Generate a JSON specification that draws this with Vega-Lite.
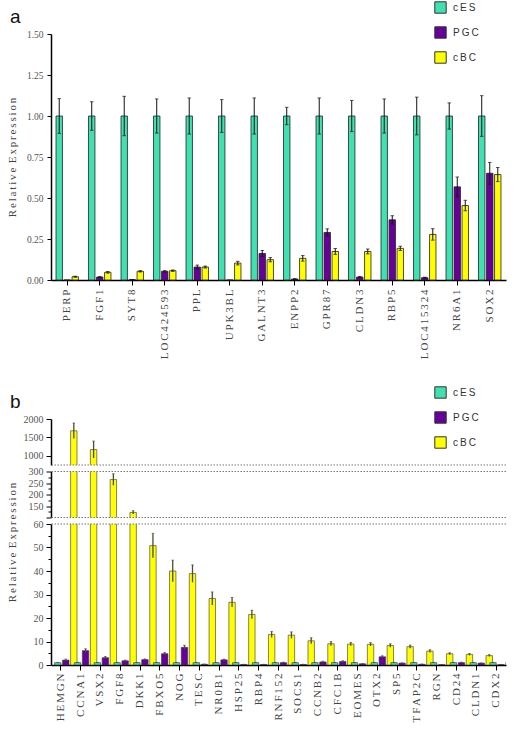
{
"$schema": "https://vega.github.io/schema/vega-lite/v6.json",
"padding": {"left": 5, "top": 1, "right": 5, "bottom": 5},
"background": "white",
"bounds": "flush",
"spacing": 139,
"config": {
  "view": {"stroke": null},
  "axis": {"labelFont": "Liberation Serif", "titleFont": "Liberation Serif", "labelColor": "#555", "titleColor": "#444", "domainColor": "#000", "tickColor": "#000", "grid": false, "domainWidth": 1.5, "tickWidth": 1, "titleFontWeight": "normal"},
  "legend": {"orient": "none", "legendX": 383, "legendY": -33, "symbolType": "square", "symbolSize": 130, "symbolStrokeColor": "#333", "symbolStrokeWidth": 1, "labelFont": "Liberation Sans", "labelFontSize": 10, "labelColor": "#333", "rowPadding": 8, "labelOffset": 6, "title": null},
  "title": {"font": "Liberation Sans", "fontSize": 19, "fontWeight": "normal", "anchor": "start", "frame": "group", "color": "#111"}
},
"datasets": {
  "a": [
    {"gene": "PERP", "group": "cES", "value": 1, "lo": 0.894, "hi": 1.106},
    {"gene": "PERP", "group": "PGC", "value": 0, "lo": null, "hi": null},
    {"gene": "PERP", "group": "cBC", "value": 0.02, "lo": 0.017, "hi": 0.023},
    {"gene": "FGF1", "group": "cES", "value": 1, "lo": 0.913, "hi": 1.087},
    {"gene": "FGF1", "group": "PGC", "value": 0.018, "lo": 0.015, "hi": 0.021},
    {"gene": "FGF1", "group": "cBC", "value": 0.047, "lo": 0.042, "hi": 0.052},
    {"gene": "SYT8", "group": "cES", "value": 1, "lo": 0.88, "hi": 1.12},
    {"gene": "SYT8", "group": "PGC", "value": 0.002, "lo": 0.001, "hi": 0.003},
    {"gene": "SYT8", "group": "cBC", "value": 0.053, "lo": 0.049, "hi": 0.057},
    {"gene": "LOC424593", "group": "cES", "value": 1, "lo": 0.896, "hi": 1.104},
    {"gene": "LOC424593", "group": "PGC", "value": 0.053, "lo": 0.049, "hi": 0.057},
    {"gene": "LOC424593", "group": "cBC", "value": 0.057, "lo": 0.053, "hi": 0.061},
    {"gene": "PPL", "group": "cES", "value": 1, "lo": 0.89, "hi": 1.11},
    {"gene": "PPL", "group": "PGC", "value": 0.079, "lo": 0.067, "hi": 0.091},
    {"gene": "PPL", "group": "cBC", "value": 0.079, "lo": 0.073, "hi": 0.085},
    {"gene": "UPK3BL", "group": "cES", "value": 1, "lo": 0.9, "hi": 1.1},
    {"gene": "UPK3BL", "group": "PGC", "value": 0, "lo": null, "hi": null},
    {"gene": "UPK3BL", "group": "cBC", "value": 0.103, "lo": 0.092, "hi": 0.114},
    {"gene": "GALNT3", "group": "cES", "value": 1, "lo": 0.89, "hi": 1.11},
    {"gene": "GALNT3", "group": "PGC", "value": 0.162, "lo": 0.144, "hi": 0.18},
    {"gene": "GALNT3", "group": "cBC", "value": 0.124, "lo": 0.111, "hi": 0.137},
    {"gene": "ENPP2", "group": "cES", "value": 1, "lo": 0.947, "hi": 1.053},
    {"gene": "ENPP2", "group": "PGC", "value": 0.006, "lo": 0.004, "hi": 0.008},
    {"gene": "ENPP2", "group": "cBC", "value": 0.132, "lo": 0.115, "hi": 0.149},
    {"gene": "GPR87", "group": "cES", "value": 1, "lo": 0.89, "hi": 1.11},
    {"gene": "GPR87", "group": "PGC", "value": 0.29, "lo": 0.268, "hi": 0.312},
    {"gene": "GPR87", "group": "cBC", "value": 0.174, "lo": 0.156, "hi": 0.192},
    {"gene": "CLDN3", "group": "cES", "value": 1, "lo": 0.905, "hi": 1.095},
    {"gene": "CLDN3", "group": "PGC", "value": 0.018, "lo": 0.015, "hi": 0.021},
    {"gene": "CLDN3", "group": "cBC", "value": 0.174, "lo": 0.159, "hi": 0.189},
    {"gene": "RBP5", "group": "cES", "value": 1, "lo": 0.896, "hi": 1.104},
    {"gene": "RBP5", "group": "PGC", "value": 0.367, "lo": 0.342, "hi": 0.392},
    {"gene": "RBP5", "group": "cBC", "value": 0.193, "lo": 0.18, "hi": 0.206},
    {"gene": "LOC415324", "group": "cES", "value": 1, "lo": 0.885, "hi": 1.115},
    {"gene": "LOC415324", "group": "PGC", "value": 0.014, "lo": 0.011, "hi": 0.017},
    {"gene": "LOC415324", "group": "cBC", "value": 0.278, "lo": 0.243, "hi": 0.313},
    {"gene": "NR6A1", "group": "cES", "value": 1, "lo": 0.92, "hi": 1.08},
    {"gene": "NR6A1", "group": "PGC", "value": 0.568, "lo": 0.508, "hi": 0.628},
    {"gene": "NR6A1", "group": "cBC", "value": 0.454, "lo": 0.422, "hi": 0.486},
    {"gene": "SOX2", "group": "cES", "value": 1, "lo": 0.876, "hi": 1.124},
    {"gene": "SOX2", "group": "PGC", "value": 0.651, "lo": 0.585, "hi": 0.717},
    {"gene": "SOX2", "group": "cBC", "value": 0.643, "lo": 0.6, "hi": 0.686}
  ],
  "b": [
    {"gene": "HEMGN", "group": "cES", "value": 1, "lo": 0.9, "hi": 1.1},
    {"gene": "HEMGN", "group": "PGC", "value": 2.1, "lo": 1.7, "hi": 2.5},
    {"gene": "HEMGN", "group": "cBC", "value": 1680, "lo": 1470, "hi": 1890},
    {"gene": "CCNA1", "group": "cES", "value": 1, "lo": 0.9, "hi": 1.1},
    {"gene": "CCNA1", "group": "PGC", "value": 6.1, "lo": 5.3, "hi": 6.9},
    {"gene": "CCNA1", "group": "cBC", "value": 1170, "lo": 940, "hi": 1400},
    {"gene": "VSX2", "group": "cES", "value": 1, "lo": 0.9, "hi": 1.1},
    {"gene": "VSX2", "group": "PGC", "value": 3.1, "lo": 2.6, "hi": 3.6},
    {"gene": "VSX2", "group": "cBC", "value": 265, "lo": 240, "hi": 290},
    {"gene": "FGF8", "group": "cES", "value": 1, "lo": 0.9, "hi": 1.1},
    {"gene": "FGF8", "group": "PGC", "value": 1.8, "lo": 1.5, "hi": 2.1},
    {"gene": "FGF8", "group": "cBC", "value": 122, "lo": 115, "hi": 129},
    {"gene": "DKK1", "group": "cES", "value": 1, "lo": 0.9, "hi": 1.1},
    {"gene": "DKK1", "group": "PGC", "value": 2.3, "lo": 2.0, "hi": 2.6},
    {"gene": "DKK1", "group": "cBC", "value": 50.8, "lo": 45.6, "hi": 56},
    {"gene": "FBXO5", "group": "cES", "value": 1, "lo": 0.9, "hi": 1.1},
    {"gene": "FBXO5", "group": "PGC", "value": 4.8, "lo": 4.3, "hi": 5.3},
    {"gene": "FBXO5", "group": "cBC", "value": 40, "lo": 35.4, "hi": 44.6},
    {"gene": "NOG", "group": "cES", "value": 1, "lo": 0.9, "hi": 1.1},
    {"gene": "NOG", "group": "PGC", "value": 7.5, "lo": 6.6, "hi": 8.4},
    {"gene": "NOG", "group": "cBC", "value": 38.9, "lo": 35.2, "hi": 42.6},
    {"gene": "TESC", "group": "cES", "value": 1, "lo": 0.9, "hi": 1.1},
    {"gene": "TESC", "group": "PGC", "value": 0.3, "lo": 0.2, "hi": 0.4},
    {"gene": "TESC", "group": "cBC", "value": 28.3, "lo": 25.5, "hi": 31.1},
    {"gene": "NR0B1", "group": "cES", "value": 1, "lo": 0.9, "hi": 1.1},
    {"gene": "NR0B1", "group": "PGC", "value": 2.2, "lo": 1.9, "hi": 2.5},
    {"gene": "NR0B1", "group": "cBC", "value": 26.7, "lo": 24.7, "hi": 28.7},
    {"gene": "HSP25", "group": "cES", "value": 1, "lo": 0.9, "hi": 1.1},
    {"gene": "HSP25", "group": "PGC", "value": 0.2, "lo": 0.1, "hi": 0.3},
    {"gene": "HSP25", "group": "cBC", "value": 21.5, "lo": 19.7, "hi": 23.3},
    {"gene": "RBP4", "group": "cES", "value": 1, "lo": 0.9, "hi": 1.1},
    {"gene": "RBP4", "group": "PGC", "value": 0.2, "lo": 0.1, "hi": 0.3},
    {"gene": "RBP4", "group": "cBC", "value": 13, "lo": 11.7, "hi": 14.3},
    {"gene": "RNF152", "group": "cES", "value": 1, "lo": 0.9, "hi": 1.1},
    {"gene": "RNF152", "group": "PGC", "value": 1.0, "lo": 0.8, "hi": 1.2},
    {"gene": "RNF152", "group": "cBC", "value": 12.7, "lo": 11.3, "hi": 14.1},
    {"gene": "SOCS1", "group": "cES", "value": 1, "lo": 0.9, "hi": 1.1},
    {"gene": "SOCS1", "group": "PGC", "value": 0.2, "lo": 0.1, "hi": 0.3},
    {"gene": "SOCS1", "group": "cBC", "value": 10.3, "lo": 9.0, "hi": 11.6},
    {"gene": "CCNB2", "group": "cES", "value": 1, "lo": 0.9, "hi": 1.1},
    {"gene": "CCNB2", "group": "PGC", "value": 1.3, "lo": 1.0, "hi": 1.6},
    {"gene": "CCNB2", "group": "cBC", "value": 9.05, "lo": 8.15, "hi": 9.95},
    {"gene": "CFC1B", "group": "cES", "value": 1, "lo": 0.9, "hi": 1.1},
    {"gene": "CFC1B", "group": "PGC", "value": 1.5, "lo": 1.2, "hi": 1.8},
    {"gene": "CFC1B", "group": "cBC", "value": 8.9, "lo": 8.2, "hi": 9.6},
    {"gene": "EOMES", "group": "cES", "value": 1, "lo": 0.9, "hi": 1.1},
    {"gene": "EOMES", "group": "PGC", "value": 0.5, "lo": 0.4, "hi": 0.6},
    {"gene": "EOMES", "group": "cBC", "value": 8.8, "lo": 8.1, "hi": 9.5},
    {"gene": "OTX2", "group": "cES", "value": 1, "lo": 0.9, "hi": 1.1},
    {"gene": "OTX2", "group": "PGC", "value": 3.5, "lo": 3.1, "hi": 3.9},
    {"gene": "OTX2", "group": "cBC", "value": 8.3, "lo": 7.55, "hi": 9.05},
    {"gene": "SP5", "group": "cES", "value": 1, "lo": 0.9, "hi": 1.1},
    {"gene": "SP5", "group": "PGC", "value": 0.8, "lo": 0.7, "hi": 0.9},
    {"gene": "SP5", "group": "cBC", "value": 7.8, "lo": 7.1, "hi": 8.5},
    {"gene": "TFAP2C", "group": "cES", "value": 1, "lo": 0.9, "hi": 1.1},
    {"gene": "TFAP2C", "group": "PGC", "value": 0.3, "lo": 0.2, "hi": 0.4},
    {"gene": "TFAP2C", "group": "cBC", "value": 5.9, "lo": 5.3, "hi": 6.5},
    {"gene": "RGN", "group": "cES", "value": 1, "lo": 0.9, "hi": 1.1},
    {"gene": "RGN", "group": "PGC", "value": 0.1, "lo": 0.05, "hi": 0.15},
    {"gene": "RGN", "group": "cBC", "value": 4.8, "lo": 4.4, "hi": 5.2},
    {"gene": "CD24", "group": "cES", "value": 1, "lo": 0.9, "hi": 1.1},
    {"gene": "CD24", "group": "PGC", "value": 1.0, "lo": 0.8, "hi": 1.2},
    {"gene": "CD24", "group": "cBC", "value": 4.5, "lo": 4.1, "hi": 4.9},
    {"gene": "CLDN1", "group": "cES", "value": 1, "lo": 0.9, "hi": 1.1},
    {"gene": "CLDN1", "group": "PGC", "value": 0.8, "lo": 0.7, "hi": 0.9},
    {"gene": "CLDN1", "group": "cBC", "value": 4.0, "lo": 3.6, "hi": 4.4},
    {"gene": "CDX2", "group": "cES", "value": 1, "lo": 0.9, "hi": 1.1},
    {"gene": "CDX2", "group": "PGC", "value": 0.1, "lo": 0.05, "hi": 0.15},
    {"gene": "CDX2", "group": "cBC", "value": 1.1, "lo": 0.95, "hi": 1.25}
  ]
},
"resolve": {"scale": {"x": "independent", "y": "independent"}, "legend": {"color": "independent"}},
"vconcat": [
  {
    "width": 455, "height": 246,
    "title": {"text": "a", "dx": -41, "dy": 30},
    "data": {"name": "a"},
    "layer": [
      {"mark": {"type": "bar", "stroke": "#222", "strokeWidth": 0.8},
       "encoding": {
         "x": {"field": "gene", "type": "nominal", "sort": null, "scale": {"paddingInner": 0.26, "paddingOuter": 0.13},
               "axis": {"title": null, "labelAngle": -90, "labelFontSize": 11, "labelColor": "#444", "tickSize": 5, "labelPadding": 4, "labelExpr": "join(split(datum.label, ''), '\u2006')"}},
         "xOffset": {"field": "group", "sort": ["cES", "PGC", "cBC"], "scale": {"paddingInner": 0.2, "paddingOuter": 0.1}},
         "y": {"field": "value", "type": "quantitative", "scale": {"domain": [0, 1.5], "nice": false},
               "axis": {"values": [0, 0.25, 0.5, 0.75, 1, 1.25, 1.5], "format": ".2f", "labelFontSize": 9.5, "tickSize": 4, "labelPadding": 4, "labelOverlap": false,
                        "title": "R\u2006e\u2006l\u2006a\u2006t\u2006i\u2006v\u2006e \u2006E\u2006x\u2006p\u2006r\u2006e\u2006s\u2006s\u2006i\u2006o\u2006n", "titleFontSize": 11, "titleX": -39, "titleBaseline": "middle"}},
         "color": {"field": "group", "type": "nominal", "scale": {"domain": ["cES", "PGC", "cBC"], "range": ["#40E0B0", "#660099", "#FFFF00"]},
                   "legend": {"labelExpr": "join(split(datum.label, ''), '\u2009')"}}
       }},
      {"mark": {"type": "rule", "color": "#111", "strokeWidth": 1},
       "encoding": {
         "x": {"field": "gene", "type": "nominal", "sort": null},
         "xOffset": {"field": "group", "sort": ["cES", "PGC", "cBC"]},
         "y": {"field": "lo", "type": "quantitative", "scale": {"domain": [0, 1.5], "nice": false}},
         "y2": {"field": "hi"}
       }},
      {"mark": {"type": "tick", "color": "#111", "size": 3.5, "thickness": 1},
       "encoding": {
         "x": {"field": "gene", "type": "nominal", "sort": null},
         "xOffset": {"field": "group", "sort": ["cES", "PGC", "cBC"]},
         "y": {"field": "hi", "type": "quantitative", "scale": {"domain": [0, 1.5], "nice": false}}
       }},
      {"mark": {"type": "tick", "color": "#111", "size": 3.5, "thickness": 1},
       "encoding": {
         "x": {"field": "gene", "type": "nominal", "sort": null},
         "xOffset": {"field": "group", "sort": ["cES", "PGC", "cBC"]},
         "y": {"field": "lo", "type": "quantitative", "scale": {"domain": [0, 1.5], "nice": false}}
       }}
    ]
  },
  {
    "bounds": "flush",
    "spacing": 6.5,
    "data": {"name": "b"},
    "resolve": {"scale": {"x": "shared", "y": "independent"}, "axis": {"x": "independent", "y": "independent"}, "legend": {"color": "independent"}},
    "vconcat": [
      {
        "width": 455, "height": 46,
        "title": {"text": "b", "dx": -41, "dy": 30},
        "layer": [
          {"mark": {"type": "bar", "stroke": "#333", "strokeWidth": 0.6, "clip": true},
           "encoding": {
             "x": {"field": "gene", "type": "nominal", "sort": null, "scale": {"paddingInner": 0.28, "paddingOuter": 0.14}, "axis": null},
             "xOffset": {"field": "group", "sort": ["cES", "PGC", "cBC"], "scale": {"paddingInner": 0.2, "paddingOuter": 0.1}},
             "y": {"field": "value", "type": "quantitative", "scale": {"domain": [750, 2000], "nice": false},
                   "axis": {"values": [1000, 1500, 2000], "format": "d", "labelFontSize": 10, "tickSize": 5, "labelPadding": 3, "labelOverlap": false, "title": null}},
             "color": {"field": "group", "type": "nominal", "scale": {"domain": ["cES", "PGC", "cBC"], "range": ["#40E0B0", "#660099", "#FFFF00"]},
                       "legend": {"labelExpr": "join(split(datum.label, ''), '\u2009')"}}
           }},
          {"mark": {"type": "rule", "color": "#4d4d38", "strokeWidth": 1.3, "clip": true},
           "encoding": {
             "x": {"field": "gene", "type": "nominal", "sort": null},
             "xOffset": {"field": "group", "sort": ["cES", "PGC", "cBC"]},
             "y": {"field": "lo", "type": "quantitative", "scale": {"domain": [750, 2000], "nice": false},
                   "axis": {"values": [1000, 1500, 2000], "format": "d", "labelFontSize": 10, "tickSize": 5, "labelPadding": 3, "labelOverlap": false, "title": null}},
             "y2": {"field": "hi"}
           }},
          {"mark": {"type": "tick", "color": "#4d4d38", "size": 2.5, "thickness": 1, "clip": true},
           "encoding": {
             "x": {"field": "gene", "type": "nominal", "sort": null},
             "xOffset": {"field": "group", "sort": ["cES", "PGC", "cBC"]},
             "y": {"field": "hi", "type": "quantitative", "scale": {"domain": [750, 2000], "nice": false},
                   "axis": {"values": [1000, 1500, 2000], "format": "d", "labelFontSize": 10, "tickSize": 5, "labelPadding": 3, "labelOverlap": false, "title": null}}
           }},
          {"data": {"values": [{"edge": 750}]},
           "mark": {"type": "rule", "color": "#777", "strokeDash": [1.5, 1.5], "strokeWidth": 1},
           "encoding": {"y": {"field": "edge", "type": "quantitative", "scale": {"domain": [750, 2000], "nice": false},
                   "axis": {"values": [1000, 1500, 2000], "format": "d", "labelFontSize": 10, "tickSize": 5, "labelPadding": 3, "labelOverlap": false, "title": null}}}}
        ]
      },
      {
        "width": 455, "height": 46,
        "layer": [
          {"mark": {"type": "bar", "stroke": "#333", "strokeWidth": 0.6, "clip": true},
           "encoding": {
             "x": {"field": "gene", "type": "nominal", "sort": null, "scale": {"paddingInner": 0.28, "paddingOuter": 0.14}, "axis": null},
             "xOffset": {"field": "group", "sort": ["cES", "PGC", "cBC"], "scale": {"paddingInner": 0.2, "paddingOuter": 0.1}},
             "y": {"field": "value", "type": "quantitative", "scale": {"domain": [100, 300], "nice": false},
                   "axis": {"values": [100, 125, 150, 175, 200, 225, 250, 275, 300], "format": "d", "labelFontSize": 10, "labelPadding": 3, "title": null, "labelOverlap": false,
                            "labelExpr": "datum.value % 50 === 0 && datum.value > 100 ? datum.label : ''",
                            "tickSize": {"condition": {"test": "datum.value % 50 !== 0", "value": 3}, "value": 5}}},
             "color": {"field": "group", "type": "nominal", "scale": {"domain": ["cES", "PGC", "cBC"], "range": ["#40E0B0", "#660099", "#FFFF00"]}, "legend": null}
           }},
          {"mark": {"type": "rule", "color": "#4d4d38", "strokeWidth": 1.3, "clip": true},
           "encoding": {
             "x": {"field": "gene", "type": "nominal", "sort": null},
             "xOffset": {"field": "group", "sort": ["cES", "PGC", "cBC"]},
             "y": {"field": "lo", "type": "quantitative", "scale": {"domain": [100, 300], "nice": false},
                   "axis": {"values": [100, 125, 150, 175, 200, 225, 250, 275, 300], "format": "d", "labelFontSize": 10, "labelPadding": 3, "title": null, "labelOverlap": false,
                            "labelExpr": "datum.value % 50 === 0 && datum.value > 100 ? datum.label : ''",
                            "tickSize": {"condition": {"test": "datum.value % 50 !== 0", "value": 3}, "value": 5}}},
             "y2": {"field": "hi"}
           }},
          {"mark": {"type": "tick", "color": "#4d4d38", "size": 2.5, "thickness": 1, "clip": true},
           "encoding": {
             "x": {"field": "gene", "type": "nominal", "sort": null},
             "xOffset": {"field": "group", "sort": ["cES", "PGC", "cBC"]},
             "y": {"field": "hi", "type": "quantitative", "scale": {"domain": [100, 300], "nice": false},
                   "axis": {"values": [100, 125, 150, 175, 200, 225, 250, 275, 300], "format": "d", "labelFontSize": 10, "labelPadding": 3, "title": null, "labelOverlap": false,
                            "labelExpr": "datum.value % 50 === 0 && datum.value > 100 ? datum.label : ''",
                            "tickSize": {"condition": {"test": "datum.value % 50 !== 0", "value": 3}, "value": 5}}}
           }},
          {"data": {"values": [{"edge": 100}, {"edge": 300}]},
           "mark": {"type": "rule", "color": "#777", "strokeDash": [1.5, 1.5], "strokeWidth": 1},
           "encoding": {"y": {"field": "edge", "type": "quantitative", "scale": {"domain": [100, 300], "nice": false},
                   "axis": {"values": [100, 125, 150, 175, 200, 225, 250, 275, 300], "format": "d", "labelFontSize": 10, "labelPadding": 3, "title": null, "labelOverlap": false,
                            "labelExpr": "datum.value % 50 === 0 && datum.value > 100 ? datum.label : ''",
                            "tickSize": {"condition": {"test": "datum.value % 50 !== 0", "value": 3}, "value": 5}}}}}
        ]
      },
      {
        "width": 455, "height": 141,
        "layer": [
          {"mark": {"type": "bar", "stroke": "#333", "strokeWidth": 0.6, "clip": true},
           "encoding": {
             "x": {"field": "gene", "type": "nominal", "sort": null, "scale": {"paddingInner": 0.28, "paddingOuter": 0.14},
                   "axis": {"title": null, "labelAngle": -90, "labelFontSize": 11, "labelColor": "#444", "tickSize": 5, "labelPadding": 3, "labelExpr": "join(split(datum.label, ''), '\u2006')"}},
             "xOffset": {"field": "group", "sort": ["cES", "PGC", "cBC"], "scale": {"paddingInner": 0.2, "paddingOuter": 0.1}},
             "y": {"field": "value", "type": "quantitative", "scale": {"domain": [0, 60], "nice": false},
                   "axis": {"values": [0, 5, 10, 15, 20, 25, 30, 35, 40, 45, 50, 55, 60], "format": "d", "labelFontSize": 10, "labelPadding": 3, "labelOverlap": false,
                            "labelExpr": "datum.value % 10 === 0 ? datum.label : ''",
                            "tickSize": {"condition": {"test": "datum.value % 10 !== 0", "value": 3}, "value": 5},
                            "title": "R\u2006e\u2006l\u2006a\u2006t\u2006i\u2006v\u2006e \u2006E\u2006x\u2006p\u2006r\u2006e\u2006s\u2006s\u2006i\u2006o\u2006n", "titleFontSize": 11, "titleX": -39, "titleY": 18, "titleBaseline": "middle"}},
             "color": {"field": "group", "type": "nominal", "scale": {"domain": ["cES", "PGC", "cBC"], "range": ["#40E0B0", "#660099", "#FFFF00"]}, "legend": null}
           }},
          {"mark": {"type": "rule", "color": "#4d4d38", "strokeWidth": 1.3, "clip": true},
           "encoding": {
             "x": {"field": "gene", "type": "nominal", "sort": null},
             "xOffset": {"field": "group", "sort": ["cES", "PGC", "cBC"]},
             "y": {"field": "lo", "type": "quantitative", "scale": {"domain": [0, 60], "nice": false},
                   "axis": {"values": [0, 5, 10, 15, 20, 25, 30, 35, 40, 45, 50, 55, 60], "format": "d", "labelFontSize": 10, "labelPadding": 3, "labelOverlap": false,
                            "labelExpr": "datum.value % 10 === 0 ? datum.label : ''",
                            "tickSize": {"condition": {"test": "datum.value % 10 !== 0", "value": 3}, "value": 5},
                            "title": "R\u2006e\u2006l\u2006a\u2006t\u2006i\u2006v\u2006e \u2006E\u2006x\u2006p\u2006r\u2006e\u2006s\u2006s\u2006i\u2006o\u2006n", "titleFontSize": 11, "titleX": -39, "titleY": 18, "titleBaseline": "middle"}},
             "y2": {"field": "hi"}
           }},
          {"mark": {"type": "tick", "color": "#4d4d38", "size": 2.5, "thickness": 1, "clip": true},
           "encoding": {
             "x": {"field": "gene", "type": "nominal", "sort": null},
             "xOffset": {"field": "group", "sort": ["cES", "PGC", "cBC"]},
             "y": {"field": "hi", "type": "quantitative", "scale": {"domain": [0, 60], "nice": false},
                   "axis": {"values": [0, 5, 10, 15, 20, 25, 30, 35, 40, 45, 50, 55, 60], "format": "d", "labelFontSize": 10, "labelPadding": 3, "labelOverlap": false,
                            "labelExpr": "datum.value % 10 === 0 ? datum.label : ''",
                            "tickSize": {"condition": {"test": "datum.value % 10 !== 0", "value": 3}, "value": 5},
                            "title": "R\u2006e\u2006l\u2006a\u2006t\u2006i\u2006v\u2006e \u2006E\u2006x\u2006p\u2006r\u2006e\u2006s\u2006s\u2006i\u2006o\u2006n", "titleFontSize": 11, "titleX": -39, "titleY": 18, "titleBaseline": "middle"}}
           }},
          {"data": {"values": [{"edge": 60}]},
           "mark": {"type": "rule", "color": "#777", "strokeDash": [1.5, 1.5], "strokeWidth": 1},
           "encoding": {"y": {"field": "edge", "type": "quantitative", "scale": {"domain": [0, 60], "nice": false},
                   "axis": {"values": [0, 5, 10, 15, 20, 25, 30, 35, 40, 45, 50, 55, 60], "format": "d", "labelFontSize": 10, "labelPadding": 3, "labelOverlap": false,
                            "labelExpr": "datum.value % 10 === 0 ? datum.label : ''",
                            "tickSize": {"condition": {"test": "datum.value % 10 !== 0", "value": 3}, "value": 5},
                            "title": "R\u2006e\u2006l\u2006a\u2006t\u2006i\u2006v\u2006e \u2006E\u2006x\u2006p\u2006r\u2006e\u2006s\u2006s\u2006i\u2006o\u2006n", "titleFontSize": 11, "titleX": -39, "titleY": 18, "titleBaseline": "middle"}}}}
        ]
      }
    ]
  }
]
}
